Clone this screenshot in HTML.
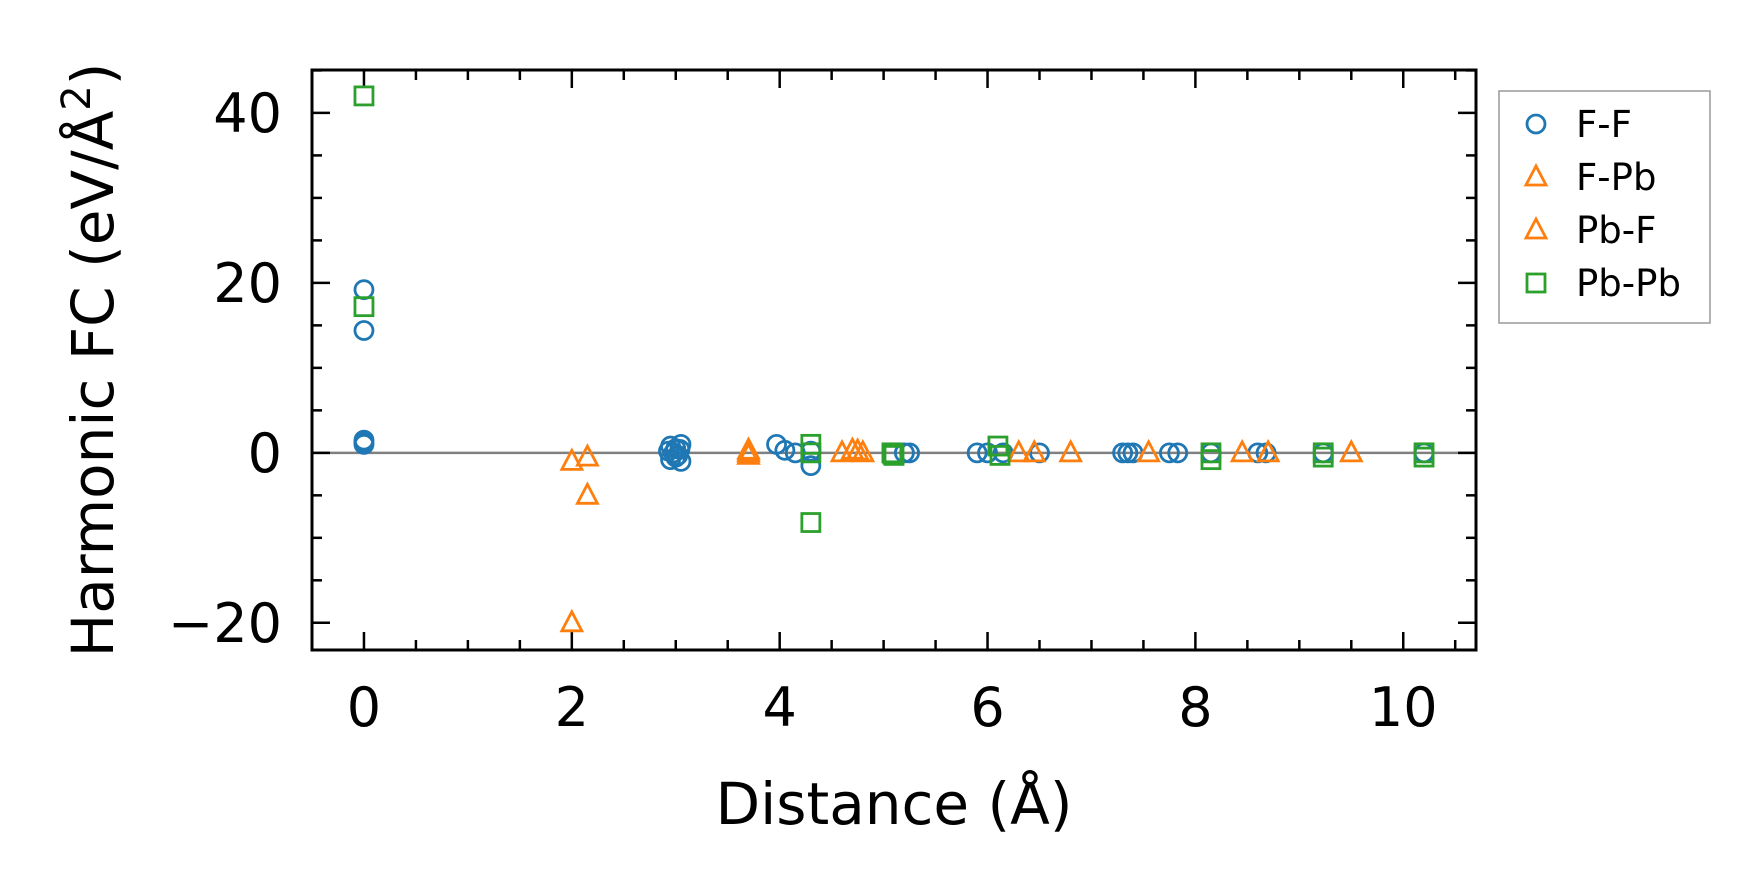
<!DOCTYPE html>
<html><head><meta charset="utf-8"><style>
html,body{margin:0;padding:0;background:#fff;}
svg{display:block;font-family:"DejaVu Sans","Liberation Sans",sans-serif;}
</style></head><body>
<svg id="chart" width="1764" height="893" viewBox="0 0 1764 893" xmlns="http://www.w3.org/2000/svg">
<rect width="1764" height="893" fill="#fff"/>
<g id="plot"></g>
</svg>
<script>
const ffX=[0,0,0,0,0,2.95,2.95,3.0,3.05,3.05,2.98,3.02,2.93,3.0,3.04,3.97,4.05,4.15,4.3,4.3,5.2,5.25,5.9,6.0,6.15,6.5,7.3,7.35,7.4,7.75,7.83,8.15,8.6,8.68,9.23,10.2];
const ffY=[19.2,14.4,1.5,1.2,1.0,0.8,-0.8,0.5,-1,1,0,-0.3,0.2,-0.5,0.4,1.0,0.3,0,-1.5,0.2,0,0,0,0,0,0,0,0,0,0,0,0,0,0,0,0];
const fpbX=[2.0,2.15,2.15,2.0,3.7,4.6,4.7,6.3,6.8,8.45];
const fpbY=[-1,-0.5,-5,-20,0,0,0.3,0,0,0];
const pbfX=[3.7,4.8,4.75,6.45,7.55,8.7,9.5,3.7];
const pbfY=[-0.3,0,0.2,0,0,0,0,0.3];
const pbX=[0,0,4.3,4.3,4.3,5.08,5.1,5.09,6.1,6.12,8.15,8.15,9.23,9.23,10.2,10.2];
const pbY=[42,17.2,1,0,-8.2,0,-0.3,-0.15,0.8,-0.3,0,-0.8,0,-0.5,0,-0.5];
const xTicks=[0,2,4,6,8,10];
const yTicks=[-20,0,20,40];
const legendLabels=["F-F","F-Pb","Pb-F","Pb-Pb"];

const L=312,R=1476,T=70,B=650;
const xMin=-0.5,xMax=10.7,yMin=-23.2,yMax=45.05;
const sx=v=>L+(v-xMin)/(xMax-xMin)*(R-L);
const sy=v=>B-(v-yMin)/(yMax-yMin)*(B-T);
const NS="http://www.w3.org/2000/svg";
const g=document.getElementById('plot');
function mk(tag,attrs,parent){const e=document.createElementNS(NS,tag);for(const k in attrs)e.setAttribute(k,attrs[k]);(parent||g).appendChild(e);return e;}

const zl=mk('line',{x1:L,x2:R,y1:sy(0),y2:sy(0),stroke:'#808080','stroke-width':2.5});



for(let v=-0.5;v<=10.7;v+=0.5){
  const x=sx(v);const major=Math.abs(v/2-Math.round(v/2))<1e-6;const len=major?18:10;
  const t1=mk('line',{x1:x,x2:x,y1:B,y2:B-len,stroke:'#000','stroke-width':2.5});
  
  
  const t2=mk('line',{x1:x,x2:x,y1:T,y2:T+len,stroke:'#000','stroke-width':2.5});
  
  
}
for(let v=-20;v<=45;v+=5){
  const y=sy(v);const major=v%20===0;const len=major?18:10;
  const t1=mk('line',{x1:L,x2:L+len,y1:y,y2:y,stroke:'#000','stroke-width':2.5});
  
  
  const t2=mk('line',{x1:R,x2:R-len,y1:y,y2:y,stroke:'#000','stroke-width':2.5});
  
  
}
xTicks.forEach(v=>{
  const t=mk('text',{x:sx(v),y:726,'text-anchor':'middle','font-size':54,fill:'#000'});
  t.textContent=String(v);
  
  
});
yTicks.forEach(v=>{
  const t=mk('text',{x:282,y:sy(v)+19,'text-anchor':'end','font-size':54,fill:'#000'});
  t.textContent=v<0?'\u2212'+Math.abs(v):String(v);
  
  
});

function circle(x,y,c,p){return mk('circle',{cx:x,cy:y,r:9,fill:'none',stroke:c,'stroke-width':2.8},p);}
function tri(x,y,c,p){return mk('polygon',{points:`${x},${y-11} ${x-10},${y+8} ${x+10},${y+8}`,fill:'none',stroke:c,'stroke-width':2.8},p);}
function sq(x,y,c,p){return mk('rect',{x:x-9,y:y-9,width:18,height:18,fill:'none',stroke:c,'stroke-width':2.8},p);}
const series=[
  {xs:ffX,ys:ffY,f:circle,c:'#1f77b4',n:'ff-point'},
  {xs:fpbX,ys:fpbY,f:tri,c:'#ff7f0e',n:'fpb-point'},
  {xs:pbfX,ys:pbfY,f:tri,c:'#ff7f0e',n:'pbf-point'},
  {xs:pbX,ys:pbY,f:sq,c:'#2ca02c',n:'pbpb-point'}
];
series.forEach(s=>{
  s.xs.forEach((xv,i)=>{
    const e=s.f(sx(xv),sy(s.ys[i]),s.c);
    
    
  });
});

const fr=mk('rect',{x:L,y:T,width:R-L,height:B-T,fill:'none',stroke:'#000','stroke-width':3});



const xl=mk('text',{x:(L+R)/2,y:824,'text-anchor':'middle','font-size':58,fill:'#000'});
xl.textContent='Distance (Å)';


const yl=mk('text',{x:0,y:0,'text-anchor':'middle','font-size':58,fill:'#000',transform:`translate(113,${(T+B)/2}) rotate(-90)`});
yl.innerHTML='Harmonic FC (eV/Å<tspan font-size="40" dy="-23">2</tspan><tspan dy="23">)</tspan>';



const lg=mk('g',{});


const lb=mk('rect',{x:1499,y:91,width:211,height:232,fill:'#fff',stroke:'#999','stroke-width':1.5},lg);


legendLabels.forEach((lab,i)=>{
  const y=124+i*53;const s=series[i];
  const m=s.f(1536,y,s.c,lg);
  
  
  const t=mk('text',{x:1576,y:y+13,'font-size':37,fill:'#000'},lg);
  t.textContent=lab;
  
  
});
</script>
</body></html>
